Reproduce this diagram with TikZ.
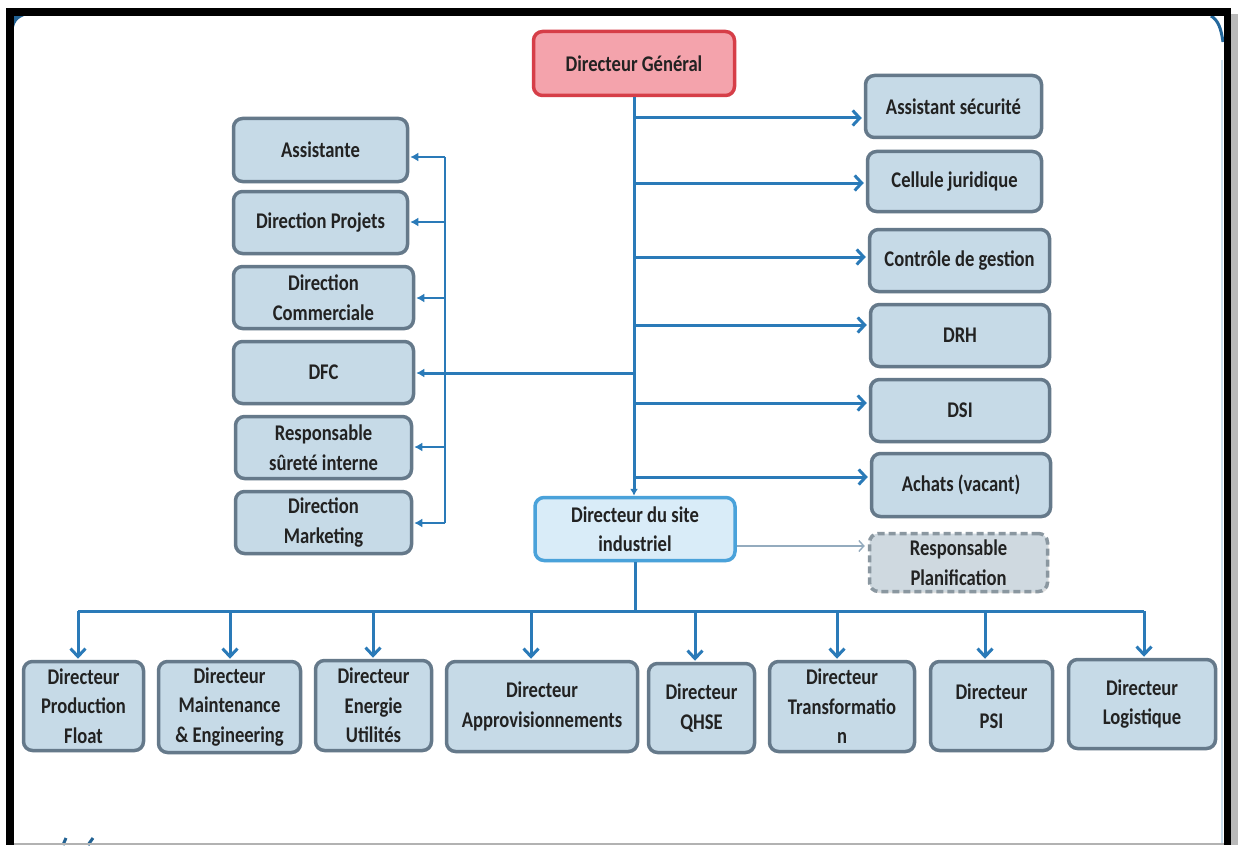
\documentclass[tikz,border=0pt]{standalone}
\usepackage{fontspec}
\newfontfamily\boxfont{Carlito}[FakeStretch=0.83]
\usetikzlibrary{arrows.meta,shadows}
\definecolor{linkblue}{HTML}{2A7AB8}
\definecolor{boxfill}{HTML}{C6DAE7}
\definecolor{boxedge}{HTML}{65798A}
\definecolor{dgfill}{HTML}{F4A3AC}
\definecolor{dgedge}{HTML}{D63E48}
\definecolor{dsfill}{HTML}{D9ECF8}
\definecolor{dsedge}{HTML}{4AA2DA}
\definecolor{plfill}{HTML}{CFD9E0}
\definecolor{pledge}{HTML}{8A97A0}
\definecolor{txt}{HTML}{222222}
\definecolor{grayarrow}{HTML}{94ABBE}
\begin{document}
\begin{tikzpicture}[x=1pt,y=-1pt,
  base/.style={line width=3.5pt, rounded corners=9pt, align=center, inner sep=2pt,
    text=txt, font=\boxfont\bfseries\fontsize{22.4}{29.5}\selectfont,
    drop shadow={shadow xshift=1pt, shadow yshift=-1.5pt, opacity=0.25}},
  stdbox/.style={base, draw=boxedge, fill=boxfill},
  dgbox/.style={base, draw=dgedge, fill=dgfill},
  dsbox/.style={base, draw=dsedge, fill=dsfill},
  plbox/.style={base, draw=pledge, fill=plfill, dashed, dash pattern=on 7pt off 4pt},
  wh/.style 2 args={minimum width=#1pt, minimum height=#2pt},
  main/.style={draw=linkblue, line width=3pt},
  thinlink/.style={draw=linkblue, line width=2.2pt},
  rarrow/.style={main, -{Straight Barb[length=7pt,width=15pt]}, shorten >=2pt},
  darrow/.style={main, -{Straight Barb[length=8pt,width=15pt]}, shorten >=1pt},
  larrow/.style={thinlink, -{Latex[length=8pt,width=9pt]}, shorten >=1pt},
  garrow/.style={draw=grayarrow, line width=1.4pt, -{Straight Barb[length=5pt,width=11pt]}, shorten >=3pt}
]
\fill[white] (0,0) rectangle (1238,845);
\useasboundingbox (0,0) rectangle (1238,845);

% page decorations
\fill[linkblue!80!black] (14,16) -- (24,16) .. controls (18,18) and (15,22) .. (14,27) -- cycle;
\draw[linkblue!85!black, line width=3pt] (1211,16) .. controls (1218,20) and (1221,28) .. (1223,42);
\draw[linkblue!80!black, line width=3pt] (63,845) -- (66,838);
\draw[linkblue!80!black, line width=3pt] (88,845) -- (93,838);
\draw[linkblue!25, line width=1.5pt] (1222,60) -- (1222,843);

% top
\node[dgbox, wh={201}{64}] (dg) at (634,63.5) {Directeur Général};

% left column
\node[stdbox, wh={174}{63}] (assist) at (320.5,150) {Assistante};
\node[stdbox, wh={174}{62}] (dproj) at (320.5,222.5) {Direction Projets};
\node[stdbox, wh={180}{62}] (dcomm) at (323.5,297.5) {Direction\\Commerciale};
\node[stdbox, wh={180}{62}] (dfc) at (323.5,372.5) {DFC};
\node[stdbox, wh={176}{62}] (rsur) at (323.5,447.5) {Responsable\\sûreté interne};
\node[stdbox, wh={176}{62}] (dmark) at (323.5,522.5) {Direction\\Marketing};

% right column
\node[stdbox, wh={176}{62}] (asec) at (953.5,106.5) {Assistant sécurité};
\node[stdbox, wh={174}{60}] (cjur) at (954.5,181.5) {Cellule juridique};
\node[stdbox, wh={180}{62}] (cges) at (959.5,260.5) {Contrôle de gestion};
\node[stdbox, wh={179}{62}] (drh) at (960,335.5) {DRH};
\node[stdbox, wh={179}{62}] (dsi) at (960,410.5) {DSI};
\node[stdbox, wh={179}{63}] (achats) at (961,485) {Achats (vacant)};
\node[plbox, wh={178}{58}] (rplan) at (958.5,562.5) {Responsable\\Planification};

% site director
\node[dsbox, wh={200}{63}] (ds) at (635,529) {Directeur du site\\industriel};

% bottom row
\node[stdbox, wh={120}{89}] (b1) at (83.5,706) {Directeur\\Production\\Float};
\node[stdbox, wh={142}{91}] (b2) at (229.5,707) {Directeur\\Maintenance\\\& Engineering};
\node[stdbox, wh={116}{90}] (b3) at (373.5,705.5) {Directeur\\Energie\\Utilités};
\node[stdbox, wh={191}{90}] (b4) at (542,706.5) {Directeur\\Approvisionnements};
\node[stdbox, wh={106}{89}] (b5) at (701.5,708) {Directeur\\QHSE};
\node[stdbox, wh={145}{90}] (b6) at (842,706.5) {Directeur\\Transformatio\\n};
\node[stdbox, wh={122}{89}] (b7) at (991.5,706) {Directeur\\PSI};
\node[stdbox, wh={147}{89}] (b8) at (1142,704) {Directeur\\Logistique};

% spine
\draw[main, -{Latex[length=7pt,width=8pt]}] (dg.south) -- (dg.south |- ds.north);

% right branches
\coordinate (r1) at (635,118);
\coordinate (r2) at (635,183);
\coordinate (r3) at (635,257);
\coordinate (r4) at (635,325);
\coordinate (r5) at (635,403);
\coordinate (r6) at (635,477);
\draw[rarrow] (r1) -- (r1 -| asec.west);
\draw[rarrow] (r2) -- (r2 -| cjur.west);
\draw[rarrow] (r3) -- (r3 -| cges.west);
\draw[rarrow] (r4) -- (r4 -| drh.west);
\draw[rarrow] (r5) -- (r5 -| dsi.west);
\draw[rarrow] (r6) -- (r6 -| achats.west);

% left branches
\coordinate (dfcj) at (635,373);
\draw[main, -{Latex[length=8pt,width=9pt]}, shorten >=1pt] (dfcj) -- (dfcj -| dfc.east);
\coordinate (l1) at (445,157);
\coordinate (l2) at (445,222);
\coordinate (l3) at (445,298);
\coordinate (l5) at (445,447);
\coordinate (l6) at (445,523);
\draw[thinlink] (l1) -- (l6);
\draw[larrow] (l1) -- (l1 -| assist.east);
\draw[larrow] (l2) -- (l2 -| dproj.east);
\draw[larrow] (l3) -- (l3 -| dcomm.east);
\draw[larrow] (l5) -- (l5 -| rsur.east);
\draw[larrow] (l6) -- (l6 -| dmark.east);

% site director to planning
\coordinate (g0) at (737,546);
\draw[garrow] (g0) -- (g0 -| rplan.west);

% bottom bus
\coordinate (d1) at (78,611);
\coordinate (d2) at (230,611);
\coordinate (d3) at (373,611);
\coordinate (d4) at (531,611);
\coordinate (d5) at (695,611);
\coordinate (d6) at (837,611);
\coordinate (d7) at (985,611);
\coordinate (d8) at (1144,611);
\draw[main] (ds.south) -- (ds.south |- d1);
\draw[main] (d1) -- (d8);
\draw[darrow] (d1) -- (d1 |- b1.north);
\draw[darrow] (d2) -- (d2 |- b2.north);
\draw[darrow] (d3) -- (d3 |- b3.north);
\draw[darrow] (d4) -- (d4 |- b4.north);
\draw[darrow] (d5) -- (d5 |- b5.north);
\draw[darrow] (d6) -- (d6 |- b6.north);
\draw[darrow] (d7) -- (d7 |- b7.north);
\draw[darrow] (d8) -- (d8 |- b8.north);

% screenshot frame
\fill[black] (6,8) rectangle (14,845);
\fill[black] (6,8) rectangle (1231,16);
\fill[black] (1224,8) rectangle (1231,845);
\fill[gray!55] (1231,14) rectangle (1238,845);
\fill[gray!60] (14,843) rectangle (1224,845);
\end{tikzpicture}
\end{document}
